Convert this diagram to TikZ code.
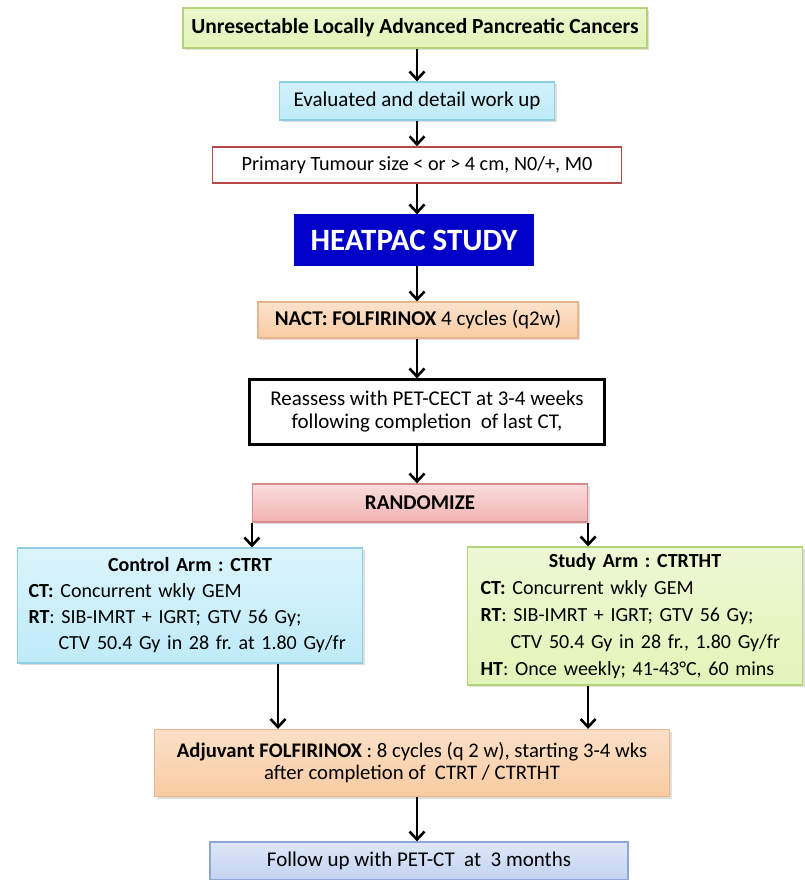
\documentclass[tikz,border=0pt]{standalone}
\usepackage{fontspec}
\setmainfont{Carlito}
\usetikzlibrary{arrows.meta, shadows}

\definecolor{limebox}{HTML}{E2F4B8}
\definecolor{limeedge}{HTML}{B5D37A}
\definecolor{skybox}{HTML}{BEEBF8}
\definecolor{skyedge}{HTML}{8FCFE3}
\definecolor{brick}{HTML}{B8474A}
\definecolor{heatblue}{HTML}{0000C8}
\definecolor{peach}{HTML}{F9CBA2}
\definecolor{peachedge}{HTML}{E9B58C}
\definecolor{rosebox}{HTML}{F2B3B3}
\definecolor{roseedge}{HTML}{D98B8B}
\definecolor{lilac}{HTML}{C3D3F2}
\definecolor{lilacedge}{HTML}{8EA6D6}

\tikzset{
  box/.style={draw, minimum width=#1, inner sep=0pt, align=center,
    font=\fontsize{21}{23}\selectfont, line width=1.2pt},
  shade/.style={drop shadow={opacity=0.25, shadow xshift=2pt, shadow yshift=-2pt}},
  arr/.style={-{Straight Barb[length=8pt, width=15pt]}, line width=2.6pt},
  armtext/.style={draw, line width=1.2pt, inner ysep=0pt,
    font=\fontsize{20}{26}\selectfont},
}

\begin{document}
\frenchspacing
\begin{tikzpicture}[x=1pt, y=-1pt]
\useasboundingbox (0,0) rectangle (804,880);
\coordinate (axis) at (417,0);

% main column
\node[box=464pt, minimum height=40pt, shade, draw=limeedge, top color=limebox!70, bottom color=limebox, font=\fontsize{21.5}{23}\selectfont\bfseries]
  (top) at (415,28) {Unresectable Locally Advanced Pancreatic Cancers};
\node[box=275pt, minimum height=38pt, shade, draw=skyedge, top color=skybox!70, bottom color=skybox]
  (eval) at (417,101) {Evaluated and detail work up};
\node[box=409pt, minimum height=36pt, fill=white, draw=brick, line width=1.6pt, font=\fontsize{20.2}{23}\selectfont]
  (prim) at (417,165) {Primary Tumour size < or > 4 cm, N0/+, M0};
\node[box=238pt, minimum height=50pt, fill=heatblue, draw=heatblue, text=white, font=\fontsize{31}{33}\selectfont\bfseries]
  (heat) at (414,240) {HEATPAC STUDY};
\node[box=320pt, minimum height=36pt, shade, draw=peachedge, top color=peach!55, bottom color=peach]
  (nact) at (418,320) {\textbf{NACT: FOLFIRINOX} 4 cycles (q2w)};
\node[box=355pt, minimum height=65pt, fill=white, draw=black, line width=2.2pt]
  (reas) at (427,412) {Reassess with PET-CECT at 3-4 weeks\\ following completion\ \ of last CT,};
\node[box=335pt, minimum height=38pt, shade, draw=roseedge, top color=rosebox!45, bottom color=rosebox]
  (rand) at (420,503) {\bfseries RANDOMIZE};

% two arms
\node[armtext, inner xsep=11pt, text width=323pt, minimum height=115pt, shade, draw=skyedge, top color=skybox!55, bottom color=skybox]
  (ctrl) at (190,605.5) {\centering\textbf{Control Arm : CTRT}\par\raggedright
  \textbf{CT:} Concurrent wkly GEM\\
  \textbf{RT}: SIB-IMRT + IGRT; GTV 56 Gy;\\
  \hspace*{1.5em}CTV 50.4 Gy in 28 fr. at 1.80 Gy/fr};
\node[armtext, inner xsep=13pt, text width=309pt, minimum height=138pt, shade, draw=limeedge, top color=limebox!60, bottom color=limebox, font=\fontsize{20}{27}\selectfont]
  (study) at (635,616) {\centering\textbf{Study Arm : CTRTHT}\par\raggedright
  \textbf{CT:} Concurrent wkly GEM\\
  \textbf{RT}: SIB-IMRT + IGRT; GTV 56 Gy;\\
  \hspace*{1.5em}CTV 50.4 Gy in 28 fr., 1.80 Gy/fr\\
  \textbf{HT}: Once weekly; 41-43\textdegree C, 60 mins};

\node[box=515pt, minimum height=67pt, shade, draw=peachedge, top color=peach!60, bottom color=peach, font=\fontsize{20.7}{22}\selectfont]
  (adj) at (412,763) {\textbf{Adjuvant FOLFIRINOX} : 8 cycles (q 2 w), starting 3-4 wks\\ after completion of\ \ CTRT / CTRTHT};
\node[box=418pt, minimum height=38pt, draw=lilacedge, top color=lilac!55, bottom color=lilac]
  (fol) at (419,861) {Follow up with PET-CT\ \ at\ \ 3 months};

\coordinate (lft) at (278,0);

% connectors
\foreach \a/\b in {top/eval, eval/prim, prim/heat, heat/nact, nact/reas, reas/rand, adj/fol}
  \draw[arr] (\a.south -| axis) -- (\b.north -| axis);
\draw[arr] (rand.south west) -- (rand.south west |- ctrl.north);
\draw[arr] (rand.south east) -- (rand.south east |- study.north);
\draw[arr] (ctrl.south -| lft) -- (adj.north -| lft);
\draw[arr] (study.south -| rand.south east) -- (adj.north -| rand.south east);
\end{tikzpicture}
\end{document}
